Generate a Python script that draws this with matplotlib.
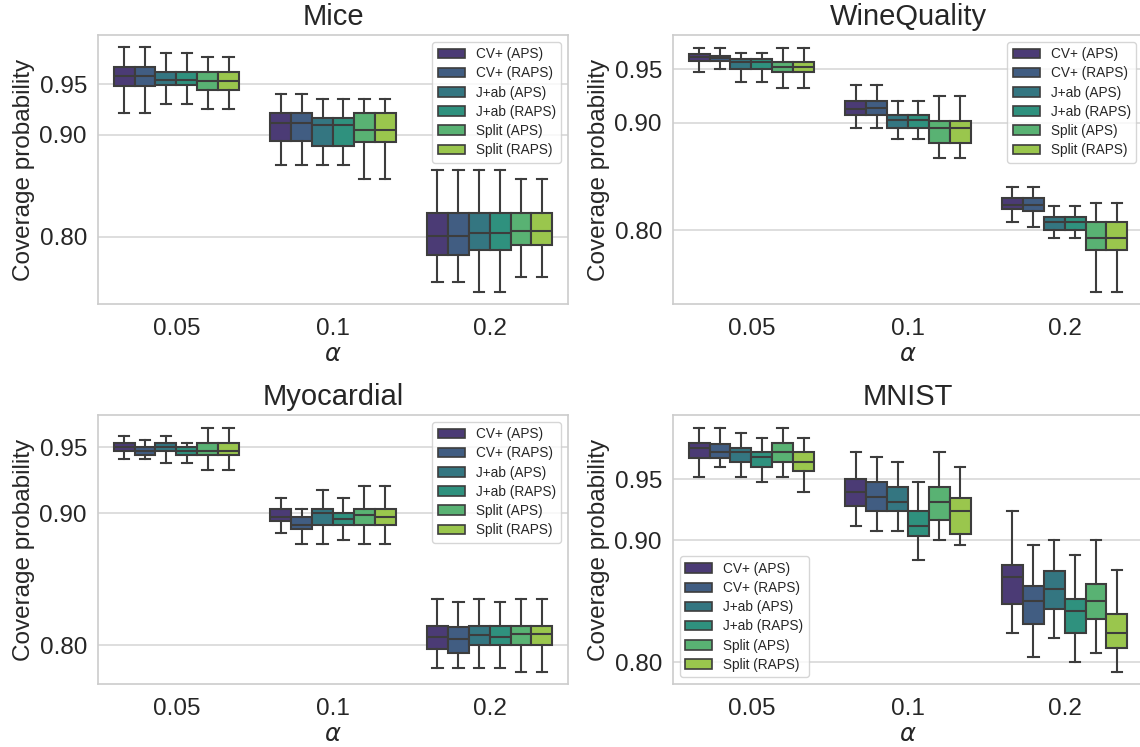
import colorsys
import numpy as np
import matplotlib
matplotlib.use("Agg")
import matplotlib.pyplot as plt
from matplotlib.patches import Patch

# ---------------- data ----------------
alphas = ["0.05", "0.1", "0.2"]
methods = ["CV+ (APS)", "CV+ (RAPS)", "J+ab (APS)", "J+ab (RAPS)", "Split (APS)", "Split (RAPS)"]
titles = ["Mice", "WineQuality", "Myocardial", "MNIST"]

# rows: alpha, columns: method
mice_lo = [[0.9212, 0.9212, 0.9307, 0.9307, 0.9258, 0.9258],
           [0.8706, 0.8706, 0.8706, 0.8706, 0.8565, 0.8565],
           [0.7549, 0.7549, 0.7458, 0.7458, 0.7598, 0.7598]]
mice_q1 = [[0.9484, 0.9484, 0.9490, 0.9490, 0.9441, 0.9441],
           [0.8944, 0.8944, 0.8889, 0.8889, 0.8931, 0.8931],
           [0.7824, 0.7824, 0.7873, 0.7873, 0.7918, 0.7918]]
mice_med = [[0.9582, 0.9582, 0.9542, 0.9542, 0.9536, 0.9536],
            [0.9118, 0.9118, 0.9095, 0.9095, 0.9052, 0.9052],
            [0.8007, 0.8007, 0.8036, 0.8036, 0.8059, 0.8059]]
mice_q3 = [[0.9673, 0.9673, 0.9624, 0.9624, 0.9624, 0.9624],
           [0.9212, 0.9212, 0.9167, 0.9167, 0.9212, 0.9212],
           [0.8235, 0.8235, 0.8235, 0.8235, 0.8235, 0.8235]]
mice_hi = [[0.9863, 0.9863, 0.9810, 0.9810, 0.9765, 0.9765],
           [0.9399, 0.9399, 0.9350, 0.9350, 0.9350, 0.9350],
           [0.8654, 0.8654, 0.8654, 0.8654, 0.8565, 0.8565]]

wine_lo = [[0.9475, 0.9500, 0.9379, 0.9379, 0.9327, 0.9327],
           [0.8949, 0.8949, 0.8853, 0.8853, 0.8676, 0.8676],
           [0.8076, 0.8026, 0.7924, 0.7924, 0.7423, 0.7423]]
wine_q1 = [[0.9574, 0.9574, 0.9506, 0.9506, 0.9475, 0.9475],
           [0.9073, 0.9073, 0.8949, 0.8949, 0.8810, 0.8810],
           [0.8200, 0.8178, 0.8002, 0.8002, 0.7810, 0.7810]]
wine_med = [[0.9611, 0.9602, 0.9565, 0.9565, 0.9525, 0.9525],
            [0.9128, 0.9134, 0.9029, 0.9029, 0.8949, 0.8949],
            [0.8234, 0.8231, 0.8076, 0.8076, 0.7924, 0.7924]]
wine_q3 = [[0.9642, 0.9627, 0.9599, 0.9599, 0.9571, 0.9571],
           [0.9203, 0.9203, 0.9076, 0.9076, 0.9020, 0.9020],
           [0.8296, 0.8296, 0.8125, 0.8125, 0.8076, 0.8076]]
wine_hi = [[0.9701, 0.9701, 0.9649, 0.9649, 0.9701, 0.9701],
           [0.9351, 0.9351, 0.9203, 0.9203, 0.9249, 0.9249],
           [0.8404, 0.8404, 0.8228, 0.8228, 0.8252, 0.8252]]

myo_lo = [[0.9412, 0.9412, 0.9384, 0.9384, 0.9326, 0.9326],
          [0.8853, 0.8767, 0.8767, 0.8795, 0.8767, 0.8767],
          [0.7827, 0.7827, 0.7827, 0.7827, 0.7797, 0.7797]]
myo_q1 = [[0.9470, 0.9440, 0.9470, 0.9440, 0.9440, 0.9440],
          [0.8941, 0.8880, 0.8911, 0.8911, 0.8911, 0.8911],
          [0.7971, 0.7941, 0.8001, 0.8001, 0.8001, 0.8001]]
myo_med = [[0.9505, 0.9475, 0.9505, 0.9475, 0.9475, 0.9473],
           [0.8971, 0.8913, 0.9001, 0.8956, 0.8986, 0.8971],
           [0.8062, 0.8047, 0.8077, 0.8062, 0.8089, 0.8089]]
myo_q3 = [[0.9530, 0.9500, 0.9530, 0.9500, 0.9530, 0.9530],
          [0.9031, 0.8971, 0.9031, 0.9001, 0.9031, 0.9031],
          [0.8147, 0.8137, 0.8147, 0.8147, 0.8147, 0.8147]]
myo_hi = [[0.9588, 0.9555, 0.9588, 0.9530, 0.9646, 0.9646],
          [0.9117, 0.9031, 0.9178, 0.9117, 0.9205, 0.9205],
          [0.8354, 0.8326, 0.8354, 0.8326, 0.8354, 0.8354]]

mnist_lo = [[0.9516, 0.9598, 0.9516, 0.9478, 0.9516, 0.9399],
            [0.9119, 0.9078, 0.9078, 0.8838, 0.8999, 0.8958],
            [0.8238, 0.8040, 0.8198, 0.8000, 0.8078, 0.7917]]
mnist_q1 = [[0.9677, 0.9677, 0.9639, 0.9598, 0.9639, 0.9571],
            [0.9277, 0.9236, 0.9236, 0.9037, 0.9168, 0.9048],
            [0.8478, 0.8315, 0.8437, 0.8238, 0.8358, 0.8119]]
mnist_med = [[0.9759, 0.9721, 0.9721, 0.9680, 0.9721, 0.9639],
             [0.9399, 0.9358, 0.9317, 0.9119, 0.9317, 0.9236],
             [0.8699, 0.8500, 0.8598, 0.8418, 0.8500, 0.8238]]
mnist_q3 = [[0.9800, 0.9786, 0.9759, 0.9721, 0.9800, 0.9721],
            [0.9505, 0.9475, 0.9437, 0.9236, 0.9437, 0.9347],
            [0.8800, 0.8628, 0.8748, 0.8519, 0.8639, 0.8399]]
mnist_hi = [[0.9917, 0.9917, 0.9879, 0.9838, 0.9917, 0.9838],
            [0.9721, 0.9680, 0.9639, 0.9478, 0.9721, 0.9598],
            [0.9236, 0.8958, 0.8999, 0.8879, 0.8999, 0.8759]]

yticks = [0.80, 0.90, 0.95]
ylims = [(0.7337, 0.9984), (0.7311, 0.9819), (0.7707, 0.9744), (0.7822, 1.0026)]

# ---------------- style ----------------
plt.rcParams["font.family"] = ["Liberation Sans", "DejaVu Sans"]
plt.rcParams["mathtext.fontset"] = "dejavusans"

cmap = matplotlib.colormaps["viridis"]
base = [cmap(v)[:3] for v in np.linspace(0, 1, len(methods) + 2)[1:-1]]
colors = []
for c in base:
    h, l, s = colorsys.rgb_to_hls(*c)
    colors.append(colorsys.hls_to_rgb(h, l, s * 0.75))
gray = (0.24, 0.24, 0.24)

fig = plt.figure(figsize=(11.4, 7.47), dpi=100)
W, H = 1140.0, 747.0
boxes = [(98, 35), (673, 35), (98, 415), (673, 415)]
aw, ah = 470, 269

datasets = [
    (mice_lo, mice_q1, mice_med, mice_q3, mice_hi),
    (wine_lo, wine_q1, wine_med, wine_q3, wine_hi),
    (myo_lo, myo_q1, myo_med, myo_q3, myo_hi),
    (mnist_lo, mnist_q1, mnist_med, mnist_q3, mnist_hi),
]

n = len(methods)
bw = 0.8 / n
for k, (title, data) in enumerate(zip(titles, datasets)):
    x0, y0 = boxes[k]
    ax = fig.add_axes([x0 / W, 1 - (y0 + ah) / H, aw / W, ah / H])
    lo, q1, med, q3, hi = [np.asarray(d) for d in data]
    ax.set_axisbelow(True)
    ax.yaxis.grid(True, color="#d5d5d5", linewidth=1.1)
    for gi in range(len(alphas)):
        for mi in range(n):
            pos = gi - 0.4 + bw / 2 + mi * bw
            stats = [dict(med=med[gi, mi], q1=q1[gi, mi], q3=q3[gi, mi],
                          whislo=lo[gi, mi], whishi=hi[gi, mi], fliers=[])]
            ax.bxp(stats, positions=[pos], widths=bw * 0.999, patch_artist=True,
                   showfliers=False, manage_ticks=False,
                   boxprops=dict(facecolor=colors[mi], edgecolor=gray, linewidth=1.5),
                   medianprops=dict(color=gray, linewidth=1.5),
                   whiskerprops=dict(color=gray, linewidth=1.5),
                   capprops=dict(color=gray, linewidth=1.5))
    ax.set_xlim(-0.5, len(alphas) - 0.5)
    ax.set_xticks(range(len(alphas)))
    ax.set_xticklabels(alphas)
    ax.set_ylim(*ylims[k])
    ax.set_yticks(yticks)
    ax.set_yticklabels([f"{v:.2f}" for v in yticks])
    ax.tick_params(axis="both", length=0, labelsize=17.5, labelcolor="#262626")
    ax.tick_params(axis="x", pad=10)
    ax.tick_params(axis="y", pad=8)
    for sp in ax.spines.values():
        sp.set_color("#cccccc")
        sp.set_linewidth(1.2)
    ax.set_title(title, fontsize=21, color="#262626", pad=7)
    ax.set_xlabel(r"$\alpha$", fontsize=17.5, color="#262626", labelpad=3)
    ax.set_ylabel("Coverage probability", fontsize=17.5, color="#262626", labelpad=3)
    handles = [Patch(facecolor=colors[i], edgecolor=gray, linewidth=1.2, label=m)
               for i, m in enumerate(methods)]
    loc = "lower left" if title == "MNIST" else "upper right"
    leg = ax.legend(handles=handles, loc=loc, fontsize=9.8, frameon=True,
                    framealpha=0.8, edgecolor="#cccccc", handlelength=2.0,
                    labelspacing=0.38)
    for t in leg.get_texts():
        t.set_color("#262626")

fig.savefig("out.png", dpi=100)
